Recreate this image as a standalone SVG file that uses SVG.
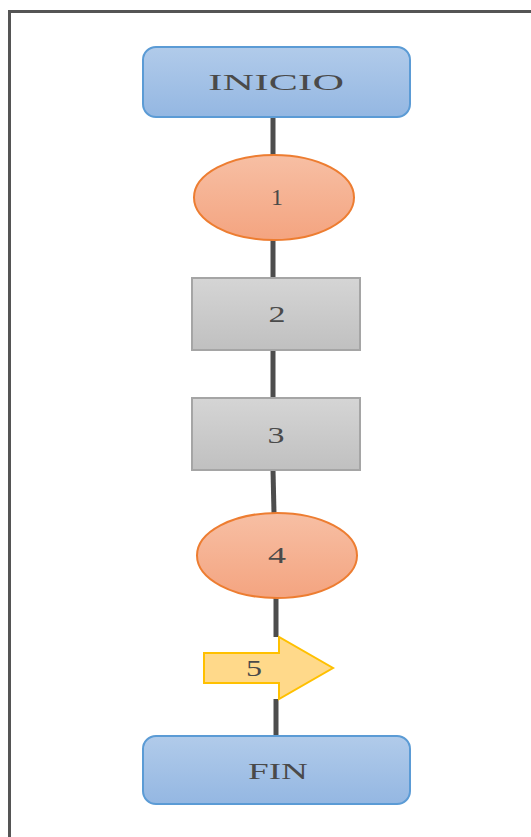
<svg xmlns="http://www.w3.org/2000/svg" width="531" height="837" viewBox="0 0 531 837">
<defs>
<linearGradient id="gBlue" x1="0" y1="0" x2="0" y2="1"><stop offset="0" stop-color="#b1cbea"/><stop offset="1" stop-color="#94b7e2"/></linearGradient>
<linearGradient id="gOrange" x1="0" y1="0" x2="0" y2="1"><stop offset="0" stop-color="#f7bfa4"/><stop offset="1" stop-color="#f4a480"/></linearGradient>
<linearGradient id="gGray" x1="0" y1="0" x2="0" y2="1"><stop offset="0" stop-color="#d5d5d5"/><stop offset="1" stop-color="#c0c0c0"/></linearGradient>
</defs>
<style>
.frame{fill:none;stroke:#555;stroke-width:3}
.term{fill:url(#gBlue);stroke:#5b9bd5;stroke-width:2}
.ell{fill:url(#gOrange);stroke:#ed7d31;stroke-width:2}
.box{fill:url(#gGray);stroke:#a5a5a5;stroke-width:2}
.arr{fill:#ffd98a;stroke:#ffc000;stroke-width:2}
.conn{stroke:#4d4d4d;stroke-width:5;fill:none}
text{font-family:"Liberation Serif","Times New Roman",serif;font-size:24px;fill:#4a4a4a;text-anchor:middle}
</style>
<path class="frame" d="M9.5,837 V11.5 H531"/>
<g id="connectors">
<line class="conn" x1="273" y1="117" x2="273" y2="155"/>
<line class="conn" x1="273" y1="240" x2="273" y2="278"/>
<line class="conn" x1="273" y1="350" x2="273" y2="398"/>
<line class="conn" x1="273" y1="470" x2="274" y2="513"/>
<line class="conn" x1="276" y1="598" x2="276" y2="637"/>
<line class="conn" x1="276" y1="699" x2="276" y2="736"/>
</g>
<g id="inicio">
<rect class="term" x="143" y="47" width="267" height="70" rx="13"/>
<text x="276" y="90" textLength="136" lengthAdjust="spacingAndGlyphs">INICIO</text>
</g>
<g id="n1">
<ellipse class="ell" cx="274" cy="197.5" rx="80" ry="42.5"/>
<text x="277" y="205" textLength="12" lengthAdjust="spacingAndGlyphs">1</text>
</g>
<g id="n2">
<rect class="box" x="192" y="278" width="168" height="72"/>
<text x="277" y="322" textLength="17" lengthAdjust="spacingAndGlyphs">2</text>
</g>
<g id="n3">
<rect class="box" x="192" y="398" width="168" height="72"/>
<text x="276" y="443" textLength="17" lengthAdjust="spacingAndGlyphs">3</text>
</g>
<g id="n4">
<ellipse class="ell" cx="277" cy="555.5" rx="80" ry="42.5"/>
<text x="277" y="563" textLength="18" lengthAdjust="spacingAndGlyphs">4</text>
</g>
<g id="n5">
<polygon class="arr" points="204,653 279,653 279,637 333,668 279,699 279,683 204,683"/>
<text x="254" y="676" textLength="16" lengthAdjust="spacingAndGlyphs">5</text>
</g>
<g id="fin">
<rect class="term" x="143" y="736" width="267" height="68" rx="13"/>
<text x="278" y="779" textLength="60" lengthAdjust="spacingAndGlyphs">FIN</text>
</g>
</svg>
